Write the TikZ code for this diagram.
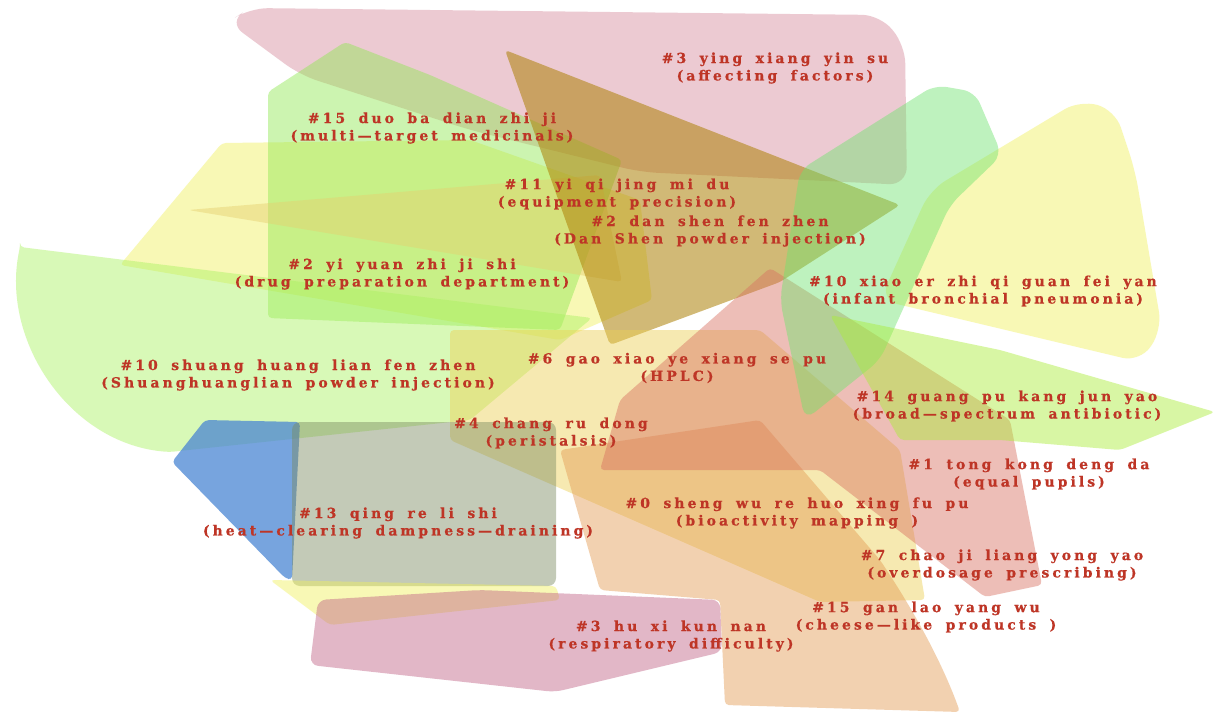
\documentclass[tikz,border=0pt]{standalone}
\usepackage{fontspec}
\usepackage{xcolor}
\usetikzlibrary{backgrounds}
\newfontfamily\hullfont[UprightFont={* Bold},FakeBold=0.6,LetterSpace=22,WordSpace=1.7]{DejaVu Serif}
\definecolor{hullColorA}{HTML}{DB97A6}
\definecolor{hullColorB}{HTML}{AD8106}
\definecolor{hullColorC}{HTML}{8EE850}
\definecolor{hullColorD}{HTML}{F0F05B}
\definecolor{hullColorE}{HTML}{E6D070}
\definecolor{hullColorF}{HTML}{AAF261}
\definecolor{hullColorG}{HTML}{4A86D3}
\definecolor{hullColorH}{HTML}{7A8A60}
\definecolor{hullColorI}{HTML}{BF6185}
\definecolor{hullColorJ}{HTML}{E49B52}
\definecolor{hullColorK}{HTML}{EDD054}
\definecolor{hullColorL}{HTML}{D87060}
\definecolor{hullColorM}{HTML}{6FE46F}
\definecolor{hullColorN}{HTML}{AAED37}
\definecolor{labelTextColor}{HTML}{BE3526}
\def\textA{\#3 ying xiang yin su\\(affecting factors)}
\def\textB{\#15 duo ba dian zhi ji\\(multi—target medicinals)}
\def\textC{\#11 yi qi jing mi du\\(equipment precision)}
\def\textD{\#2 dan shen fen zhen\\(Dan Shen powder injection)}
\def\textE{\#2 yi yuan zhi ji shi\\(drug preparation department)}
\def\textF{\#10 xiao er zhi qi guan fei yan\\(infant bronchial pneumonia)}
\def\textG{\#10 shuang huang lian fen zhen\\(Shuanghuanglian powder injection)}
\def\textH{\#6 gao xiao ye xiang se pu\\(HPLC)}
\def\textI{\#14 guang pu kang jun yao\\(broad—spectrum antibiotic)}
\def\textJ{\#4 chang ru dong\\(peristalsis)}
\def\textK{\#1 tong kong deng da\\(equal pupils)}
\def\textL{\#13 qing re li shi\\(heat—clearing dampness—draining)}
\def\textM{\#0 sheng wu re huo xing fu pu\\(bioactivity mapping )}
\def\textN{\#7 chao ji liang yong yao\\(overdosage prescribing)}
\def\textO{\#15 gan lao yang wu\\(cheese—like products )}
\def\textP{\#3 hu xi kun nan\\(respiratory difficulty)}

\begin{document}
\begin{tikzpicture}[x=1bp,y=-1bp,
  hull/.style={fill opacity=0.45, rounded corners=4bp},
  clusterlabel/.style={text=labelTextColor, align=center, inner sep=0pt,
    font=\hullfont\fontsize{14}{17.5}\selectfont}]

% white page
\fill[white] (0, 0) rectangle (1218, 715);
\useasboundingbox (0, 0) rectangle (1218, 715);

% hull layer
\begin{scope}
\fill[hull, color=hullColorA, fill opacity=0.5, rounded corners=18bp] (250, 8) -- (880, 15) -- (905, 45)
  -- (907, 185) -- (640, 172) -- (470, 130) -- (300, 75) -- (228, 22) -- cycle;
\fill[hull, color=hullColorD] (222, 143) -- (470, 140) -- (640, 200) -- (652, 300)
  -- (560, 340) -- (120, 265) -- cycle;
\fill[hull, color=hullColorC] (268, 92) -- (345, 42) -- (430, 75) -- (622, 160)
  -- (560, 330) -- (268, 318) -- cycle;
\fill[hull, color=hullColorE] (188, 210) -- (600, 175) -- (622, 282) -- cycle;
\fill[hull, color=hullColorB, fill opacity=0.55] (505, 50) -- (900, 205) -- (780, 282) -- (610, 345) -- cycle;
\fill[hull, color=hullColorF] (20, 247) -- (592, 318) -- (470, 420) -- (170, 452)
  .. controls (70, 445) and (0, 340) .. (20, 247) -- cycle;
\fill[hull, color=hullColorK] (450, 330) -- (760, 330) -- (900, 450) -- (925, 600)
  -- (820, 602) -- (450, 440) -- cycle;
\fill[hull, color=hullColorG, fill opacity=0.75] (205, 420) -- (300, 422) -- (292, 580)
  -- (285, 578) -- (172, 462) -- cycle;
\fill[hull, color=hullColorH, rounded corners=8bp] (292, 422) rectangle (556, 586);
\fill[hull, color=hullColorD] (270, 580) -- (556, 586) -- (560, 600) -- (330, 625) -- cycle;
\fill[hull, color=hullColorJ] (560, 450) -- (760, 420) -- (880, 560)
  .. controls (920, 620) and (945, 670) .. (960, 712) -- (725, 705) -- (720, 600) -- (600, 590) -- cycle;
\fill[hull, color=hullColorI, rounded corners=8bp] (318, 600) -- (480, 590) -- (720, 600)
  -- (722, 652) -- (555, 692) -- (310, 665) -- cycle;
\fill[hull, color=hullColorL] (770, 268) -- (1010, 420) -- (1042, 585) -- (985, 597)
  -- (820, 470) -- (600, 470) -- (620, 400) -- cycle;
\fill[hull, color=hullColorD, rounded corners=18bp] (930, 190) -- (1080, 100) -- (1115, 110)
  -- (1135, 170) -- (1162, 330) -- (1140, 362) -- (880, 300) -- cycle;
\fill[hull, color=hullColorM, rounded corners=12bp] (800, 170) -- (935, 85) -- (975, 92)
  -- (1002, 155) -- (950, 205) -- (880, 360) -- (805, 420) -- (780, 300) -- cycle;
\fill[hull, color=hullColorN] (830, 315) -- (1000, 350) -- (1215, 412) -- (1120, 450)
  -- (1000, 440) -- (900, 440) -- cycle;
\end{scope}

% label layer
\begin{scope}
\node[clusterlabel] (clusterA) at (775, 68) {\textA};
\node[clusterlabel] (clusterB) at (432, 128) {\textB};
\node[clusterlabel] (clusterC) at (617, 194) {\textC};
\node[clusterlabel] (clusterD) at (710, 231) {\textD};
\node[clusterlabel] (clusterE) at (402, 274) {\textE};
\node[clusterlabel] (clusterF) at (983, 291) {\textF};
\node[clusterlabel] (clusterG) at (298, 375) {\textG};
\node[clusterlabel] (clusterH) at (677, 368) {\textH};
\node[clusterlabel] (clusterI) at (1007, 406) {\textI};
\node[clusterlabel] (clusterJ) at (551, 433) {\textJ};
\node[clusterlabel] (clusterK) at (1029, 474) {\textK};
\node[clusterlabel] (clusterL) at (398, 523) {\textL};
\node[clusterlabel] (clusterM) at (797, 513) {\textM};
\node[clusterlabel] (clusterN) at (1002, 565) {\textN};
\node[clusterlabel] (clusterO) at (926, 617) {\textO};
\node[clusterlabel] (clusterP) at (671, 636) {\textP};
\end{scope}

\end{tikzpicture}
\end{document}
